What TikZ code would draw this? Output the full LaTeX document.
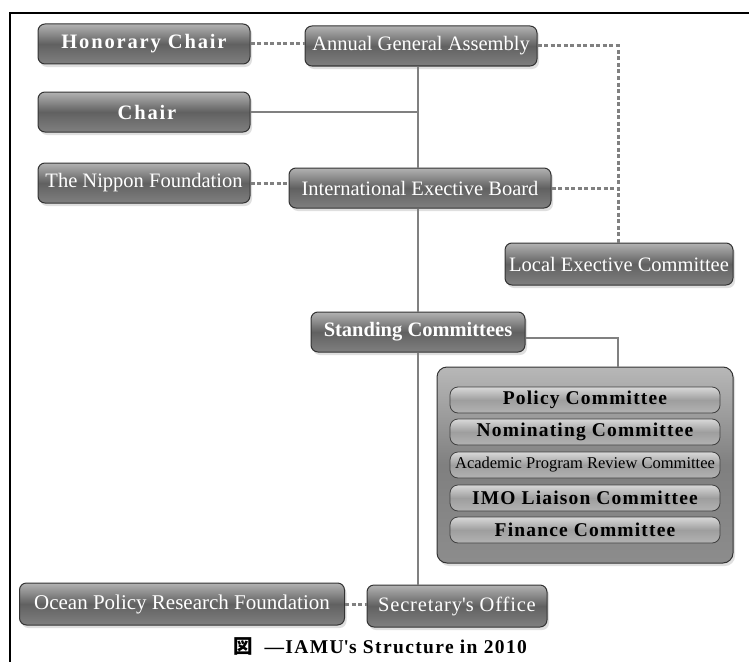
\documentclass[tikz,border=0pt]{standalone}
\usepackage{fontspec}
\setmainfont{Liberation Serif}
\newfontfamily\spacedfont[LetterSpace=9]{Liberation Serif}
\newfontfamily\barfont[LetterSpace=6]{Liberation Serif}
\newfontfamily\secfont[LetterSpace=4]{Liberation Serif}
\newfontfamily\capfont[LetterSpace=7]{Liberation Serif}
\newfontfamily\cjkfont{Noto Sans CJK JP}
\usetikzlibrary{shadows,calc}
\tikzset{
  dbox/.style={rounded corners=7pt, draw=black!80, line width=1pt,
    top color=black!30, bottom color=black!50, middle color=black!62,
    text=white, inner sep=0pt, minimum height=40pt,
    font=\fontsize{20.5}{22}\selectfont,
    drop shadow={opacity=0.25, shadow xshift=2pt, shadow yshift=-3pt}},
  panelbox/.style={rounded corners=10pt, draw=black!80, line width=1pt,
    top color=black!28, bottom color=black!45, middle color=black!50,
    inner sep=0pt,
    drop shadow={opacity=0.25, shadow xshift=2pt, shadow yshift=-3pt}},
  barbox/.style={rounded corners=8pt, draw=black!75, line width=0.8pt,
    top color=black!15, bottom color=black!30, middle color=black!38,
    text=black, inner sep=0pt, minimum width=270pt, minimum height=26pt,
    font=\fontsize{19.5}{21}\selectfont\barfont\bfseries},
  solidlink/.style={draw=black!50, line width=2.6pt},
  dashlink/.style={draw=black!50, line width=3pt, dash pattern=on 4pt off 2.5pt}
}
\begin{document}
\begin{tikzpicture}[x=1pt,y=-1pt]
\useasboundingbox (0,0) rectangle (749,661);
\fill[white] (0,0) rectangle (749,661);
\draw[line width=2.5pt, line cap=rect] (749,13) -- (10,13) -- (10,661);

\coordinate (sp) at (418,0);
\coordinate (rx) at (618,0);

% nodes
\node[dbox, minimum width=212pt] (hon) at (144,44)
  {\spacedfont\bfseries Honorary Chair};
\node[dbox, minimum width=232pt] (aga) at (421,46) {Annual General Assembly};
\node[dbox, minimum width=212pt] (chair) at (144,112)
  {\spacedfont\bfseries \hspace{6pt}Chair};
\node[dbox, minimum width=212pt] (nip) at (144,183) {The Nippon Foundation};
\node[dbox, minimum width=262pt] (ieb) at (420,188) {International Exective Board};
\node[dbox, minimum width=228pt, minimum height=42pt] (lec) at (619,264) {Local Exective Committee};
\node[dbox, minimum width=214pt] (sc) at (418,332) {\bfseries Standing Committees};

\node[panelbox, minimum width=296pt, minimum height=196pt] (panel) at (585,465) {};
\node[barbox] (pol) at (585,400) {Policy Committee};
\node[barbox] (nom) at (585,432) {Nominating Committee};
\node[barbox, font=\fontsize{16.5}{18}\selectfont] (apr) at (585,465) {Academic Program Review Committee};
\node[barbox] (imo) at (585,498) {IMO Liaison Committee};
\node[barbox] (fin) at (585,530) {Finance Committee};

\node[dbox, minimum width=325pt, minimum height=42pt, font=\fontsize{21}{23}\selectfont] (opr) at (182,604) {Ocean Policy Research Foundation};
\node[dbox, minimum width=180pt, minimum height=42pt] (sec) at (457,606) {\secfont Secretary\textquotesingle s Office};

\node[font=\fontsize{19.5}{21}\selectfont] (cap) at (380,646)
  {{\cjkfont\bfseries 図}\hspace{12pt}{\capfont\bfseries —IAMU\textquotesingle s Structure in 2010}};

% solid connectors
\begin{scope}[solidlink]
\draw (aga.south -| sp) -- (ieb.north -| sp);
\draw (ieb.south -| sp) -- (sc.north -| sp);
\draw (sc.south -| sp) -- (sec.north -| sp);
\draw (chair.east) -- (chair.east -| sp);
\coordinate (scr) at ($(sc.east)+(0,6)$);
\draw (scr) -- (scr -| rx) -- (panel.north -| rx);
\end{scope}

% dashed connectors
\begin{scope}[dashlink]
\draw (hon.east) -- (hon.east -| aga.west);
\draw (aga.east) -- (aga.east -| rx) -- (lec.north -| rx);
\draw (ieb.east) -- (ieb.east -| rx);
\draw (nip.east) -- (nip.east -| ieb.west);
\draw (opr.east) -- (opr.east -| sec.west);
\end{scope}
\end{tikzpicture}
\end{document}
